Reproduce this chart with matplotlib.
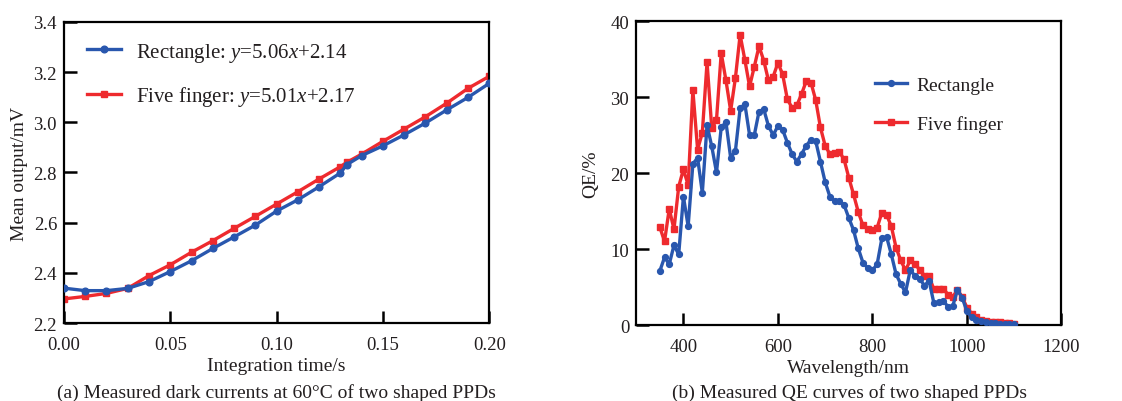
"""
Dark current and QE curves of two shaped PPDs (rectangle vs five finger).
"""

import matplotlib
matplotlib.use("Agg")
import matplotlib.pyplot as plt
import numpy as np

C_BLUE = "#2957ae"
C_RED = "#ee2a2e"
C_TEXT = "#231f20"

# (a) mean output vs integration time
t_s = [0.00, 0.01, 0.02, 0.03, 0.04, 0.05, 0.06, 0.07, 0.08, 0.09, 0.10,
       0.11, 0.12, 0.13, 0.133, 0.14, 0.15, 0.16, 0.17, 0.18, 0.19, 0.20]
dark_rect = [2.339, 2.329, 2.329, 2.338, 2.365, 2.405, 2.448, 2.497, 2.543, 2.590, 2.646,
             2.691, 2.743, 2.798, 2.831, 2.867, 2.906, 2.950, 2.997, 3.049, 3.099, 3.155]
dark_five = [2.296, 2.306, 2.318, 2.338, 2.389, 2.432, 2.482, 2.528, 2.577, 2.625, 2.674,
             2.723, 2.774, 2.823, 2.840, 2.873, 2.924, 2.973, 3.022, 3.076, 3.135, 3.183]

# (b) QE vs wavelength
wl_nm = list(range(350, 1101, 10))
qe_rect = [7.1, 8.9, 8.0, 10.5, 9.3, 16.9, 13.0, 21.2, 22.0, 17.4,
           26.3, 23.5, 20.1, 26.0, 26.7, 22.0, 22.9, 28.5, 29.1, 25.0,
           25.0, 28.1, 28.4, 26.2, 25.0, 26.2, 25.7, 24.0, 22.5, 21.5,
           22.5, 23.6, 24.4, 24.2, 21.5, 18.8, 16.9, 16.3, 16.3, 15.8,
           14.1, 12.5, 10.1, 8.2, 7.5, 7.2, 8.0, 11.4, 11.6, 9.3,
           6.7, 5.4, 4.3, 7.2, 6.5, 6.1, 5.2, 5.8, 2.9, 3.0,
           3.2, 2.4, 2.5, 4.6, 3.6, 1.8, 1.0, 0.7, 0.5, 0.35,
           0.3, 0.25, 0.2, 0.15, 0.12, 0.1]
qe_five = [12.9, 11.0, 15.3, 12.6, 18.2, 20.5, 18.4, 30.9, 23.1, 25.3,
           34.6, 25.9, 27.0, 35.8, 32.2, 28.2, 32.5, 38.2, 34.9, 31.4,
           34.0, 36.7, 34.8, 32.2, 32.7, 34.5, 33.0, 29.7, 28.6, 28.9,
           30.4, 32.1, 31.9, 29.6, 26.0, 23.6, 22.5, 22.7, 22.8, 21.8,
           19.4, 17.2, 14.9, 13.1, 12.7, 12.5, 12.8, 14.8, 14.5, 13.0,
           10.2, 8.5, 7.2, 8.5, 8.0, 7.3, 6.5, 6.4, 4.7, 4.8,
           4.8, 4.0, 3.7, 4.6, 3.7, 2.3, 1.5, 1.0, 0.7, 0.55,
           0.45, 0.4, 0.35, 0.3, 0.25, 0.2]

plt.rcParams.update({
    "font.family": ["Liberation Serif", "DejaVu Serif"],
    "mathtext.fontset": "custom",
    "mathtext.rm": "Liberation Serif",
    "mathtext.it": "Liberation Serif:italic",
    "font.size": 14,
    "text.color": C_TEXT,
    "axes.labelcolor": C_TEXT,
    "xtick.labelcolor": C_TEXT,
    "ytick.labelcolor": C_TEXT,
})


def style_axes(ax):
    for sp in ax.spines.values():
        sp.set_linewidth(1.6)
    ax.tick_params(direction="in", length=9, width=1.8, top=False, right=False,
                   labelsize=13.5, color="black")
    ax.tick_params(axis="x", pad=9)
    ax.tick_params(axis="y", pad=5)


fig = plt.figure(figsize=(11.22, 4.02), dpi=100)
ax1 = fig.add_axes([0.057, 0.194, 0.379, 0.749])
ax2 = fig.add_axes([0.567, 0.189, 0.379, 0.756])

ax1.plot(t_s, dark_rect, color=C_BLUE, lw=2.4, marker="o", ms=4.8,
         label=r"Rectangle: $y$=5.06$x$+2.14", zorder=3)
ax1.plot(t_s, dark_five, color=C_RED, lw=2.4, marker="s", ms=4.6,
         label=r"Five finger: $y$=5.01$x$+2.17", zorder=2)
ax1.set_xlim(0, 0.20)
ax1.set_ylim(2.2, 3.4)
ax1.set_xticks(np.arange(0, 0.201, 0.05))
ax1.set_xticklabels(["0.00", "0.05", "0.10", "0.15", "0.20"])
ax1.set_yticks(np.arange(2.2, 3.41, 0.2))
ax1.set_yticklabels(["2.2", "2.4", "2.6", "2.8", "3.0", "3.2", "3.4"])
ax1.set_xlabel("Integration time/s", fontsize=14, labelpad=3)
ax1.set_ylabel("Mean output/mV", fontsize=14, labelpad=4)
style_axes(ax1)
ax1.legend(loc="upper left", frameon=False, fontsize=15, handlelength=1.65,
           labelspacing=1.0, handletextpad=0.7, bbox_to_anchor=(0.01, 1.0),
           borderaxespad=0.5)
fig.text(0.246, 0.022, "(a) Measured dark currents at 60°C of two shaped PPDs",
         ha="center", va="center", fontsize=14)

ax2.plot(wl_nm, qe_rect, color=C_BLUE, lw=2.4, marker="o", ms=4.2,
         label="Rectangle", zorder=3)
ax2.plot(wl_nm, qe_five, color=C_RED, lw=2.4, marker="s", ms=4.2,
         label="Five finger", zorder=2)
ax2.set_xlim(300, 1200)
ax2.set_ylim(0, 40)
ax2.set_xticks([400, 600, 800, 1000, 1200])
ax2.set_yticks([0, 10, 20, 30, 40])
ax2.set_xlabel("Wavelength/nm", fontsize=14, labelpad=3)
ax2.set_ylabel("QE/%", fontsize=14, labelpad=8)
style_axes(ax2)
ax2.legend(loc="upper left", frameon=False, fontsize=14, handlelength=1.65,
           labelspacing=1.05, handletextpad=0.5, bbox_to_anchor=(0.52, 0.875))
fig.text(0.757, 0.022, "(b) Measured QE curves of two shaped PPDs",
         ha="center", va="center", fontsize=14)

fig.savefig("out.png", dpi=100, facecolor="white")
